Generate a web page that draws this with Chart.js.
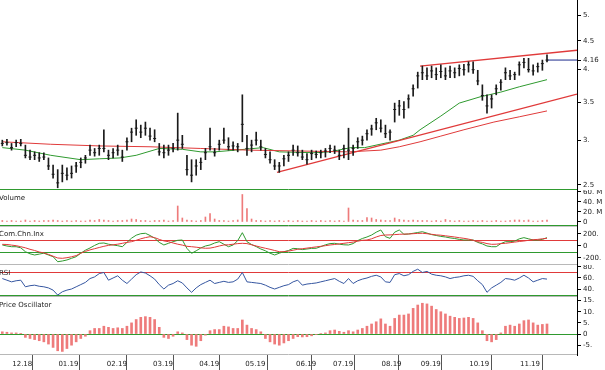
<!DOCTYPE html>
<html><head><meta charset="utf-8">
<script src="https://cdn.jsdelivr.net/npm/chart.js@4"></script>
<style>html,body{margin:0;padding:0;background:#fff;overflow:hidden}canvas{display:block}</style>
</head><body>
<canvas id="c" width="605" height="370"></canvas>
<script>
// ---- data; x = trading-day index ----
const high = [3.00,3.01,2.96,3.00,3.01,2.94,2.88,2.86,2.85,2.85, 2.79,2.71,2.66,2.71,2.68,2.70,2.74,2.79,2.82,2.94, 2.90,2.94,3.13,2.88,2.90,2.94,2.88,3.03,3.15,3.26, 3.19,3.23,3.15,3.13,2.96,2.94,2.94,2.96,3.35,3.06, 2.82,2.77,2.77,2.79,2.90,3.15,2.90,3.00,3.15,3.03, 2.98,2.96,3.61,3.06,3.00,3.10,3.00,2.90,2.86,2.77, 2.74,2.82,2.86,2.94,2.93,2.88,2.84,2.88,2.87,2.88, 2.90,2.94,2.93,2.88,2.94,3.15,2.94,3.03,3.05,3.13, 3.19,3.28,3.26,3.19,3.13,3.49,3.53,3.51,3.61,3.76, 3.96,4.06,4.03,4.06,4.03,4.08,4.03,4.06,4.03,4.08, 4.09,4.13,4.13,3.99,3.76,3.61,3.61,3.76,3.84,4.03, 3.99,3.96,4.13,4.19,4.19,4.08,4.11,4.16,4.25];
const low = [2.93,2.94,2.88,2.92,2.93,2.79,2.77,2.77,2.75,2.77, 2.66,2.57,2.47,2.53,2.55,2.57,2.63,2.68,2.73,2.82, 2.81,2.82,2.86,2.77,2.79,2.82,2.75,2.88,2.98,3.06, 3.03,3.06,3.00,2.98,2.82,2.79,2.82,2.86,2.88,2.90, 2.60,2.53,2.60,2.66,2.77,2.88,2.81,2.88,2.96,2.88, 2.88,2.86,2.98,2.82,2.86,2.94,2.88,2.79,2.73,2.66, 2.63,2.70,2.75,2.82,2.81,2.77,2.72,2.77,2.79,2.79, 2.80,2.85,2.84,2.77,2.79,2.77,2.82,2.90,2.94,3.00, 3.06,3.13,3.10,3.03,3.00,3.23,3.32,3.28,3.42,3.59, 3.71,3.84,3.84,3.87,3.84,3.87,3.84,3.87,3.87,3.90, 3.91,3.96,3.94,3.76,3.53,3.35,3.42,3.61,3.68,3.84, 3.84,3.84,3.91,4.03,3.96,3.91,3.96,3.99,4.13];
const close = [2.96,2.97,2.91,2.97,2.96,2.82,2.80,2.82,2.79,2.80, 2.70,2.61,2.52,2.62,2.60,2.62,2.70,2.74,2.79,2.88, 2.85,2.90,2.90,2.82,2.85,2.88,2.80,2.98,3.10,3.15, 3.10,3.15,3.05,3.02,2.86,2.85,2.88,2.90,3.00,2.95, 2.66,2.60,2.70,2.74,2.85,2.92,2.85,2.95,3.00,2.92, 2.93,2.92,3.20,2.90,2.94,3.00,2.92,2.83,2.77,2.70, 2.70,2.78,2.82,2.88,2.85,2.80,2.77,2.84,2.83,2.85, 2.87,2.90,2.88,2.82,2.90,2.88,2.90,2.98,3.00,3.08, 3.14,3.22,3.15,3.08,3.10,3.40,3.45,3.40,3.55,3.70, 3.90,3.95,3.90,3.98,3.92,3.97,3.90,3.98,3.95,4.02, 4.00,4.08,4.00,3.82,3.60,3.45,3.55,3.70,3.80,3.95, 3.90,3.92,4.08,4.12,4.00,3.98,4.05,4.10,4.16];
const volumeM = [3,2,3,2,2,4,2,3,2,3, 3,4,3,2,3,2,3,2,2,4, 3,5,4,3,2,3,3,4,6,5, 3,3,2,3,3,4,2,3,32,8, 4,3,2,3,10,17,6,3,3,2, 3,4,55,27,6,3,3,2,3,2, 3,2,3,2,3,2,2,3,2,3, 2,3,2,3,2,28,4,3,3,9, 8,5,4,3,3,8,5,4,3,4, 3,3,3,2,3,2,5,3,2,3, 2,2,3,2,3,2,2,3,2,2, 3,4,4,3,4,2,2,3,4];
const cci = [17,0,-12,-12,-30,-95,-130,-150,-135,-120, -150,-178,-262,-250,-233,-205,-178,-120,-70,-33, 10,45,50,30,17,5,-12,60,130,180, 205,212,175,130,60,17,45,72,95,100, -40,-122,-80,-33,0,17,50,72,30,-12, 17,90,222,72,25,-10,-50,-80,-120,-150, -120,-95,-75,-40,-45,-60,-50,-40,-38,-10, 20,40,45,30,20,17,40,90,125,150, 183,230,267,155,128,230,267,195,200,212, 225,238,215,190,175,160,150,135,125,110, 100,100,100,60,35,0,-12,-12,40,72, 72,80,120,139,120,100,100,110,139];
const cciAvg = [28,25,15,5,-12,-30,-55,-75,-100,-115, -140,-170,-200,-205,-195,-180,-160,-120,-90,-65, -45,-25,-5,10,20,30,45,60,72,95, 120,140,155,140,110,85,72,50,30,15, -5,-12,-20,-30,-38,-35,-20,0,17,20, 30,40,45,40,20,0,-20,-38,-55,-75, -95,-95,-85,-70,-55,-45,-35,-25,-15,-5, 5,17,25,35,45,55,65,80,95,100, 120,150,175,183,185,190,195,198,200,205, 210,212,205,195,185,180,170,160,150,138, 128,115,95,72,60,40,28,30,40,45, 55,65,75,83,95,105,110,120,128];
const rsi = [59,56,53,55,56,44,46,47,45,44, 42,38,29,35,38,40,44,48,52,59, 62,68,70,56,60,64,56,50,58,66, 71,69,64,58,48,40,47,50,55,51, 42,34,42,48,52,56,50,52,54,52, 53,58,70,53,52,51,50,47,43,40, 43,46,48,53,56,47,49,50,51,53, 55,57,59,54,50,59,50,55,58,60, 63,65,62,53,52,66,68,64,66,72, 76,70,72,67,65,64,62,59,61,62, 64,65,63,55,48,34,42,47,52,59, 58,56,60,65,60,53,56,59,58];
const priceOsc = [1,0.8,0.5,0.5,0.3,-1.5,-2,-2.5,-3,-3.5, -4.5,-6,-7.5,-7.8,-6.5,-5,-3.5,-2,-1,1.5, 2.5,2.5,3.5,3,2.5,2.8,2.5,3.5,5,6.5, 7.5,7.8,7.5,6.5,3,-1.5,-2,-1,1,0.5, -2.5,-5,-5.5,-3,-0.5,1.5,2,2,3.5,3.2, 2.5,2.5,6.3,4,2.5,2,1,-2,-3.5,-4.5, -5,-4,-3,-2,-1.2,-1.3,-1.2,-0.8,-0.3,0.2, 0.5,1.5,1.8,1.2,0.8,1.5,1,1.8,2.5,3.5, 4.5,5.5,6.8,4.5,3.5,7,8.5,8.5,9,11.5, 13,13.8,13.5,12.5,11,10,9,8,7.5,7, 7.2,7.5,7,5,1.5,-3,-3.5,-2.5,0.5,3.5, 4,3.5,4.5,6,6.3,5,4,4.3,4.5];
const maRedDays = [0,21,42,64,86,107,129,150,164,172,181,190,200,213,224,236];
const maRed = [2.98,2.95,2.93,2.92,2.90,2.88,2.87,2.86,2.88,2.92,2.98,3.05,3.13,3.23,3.30,3.38];
const maGreenDays = [0,10,21,34,42,51,58,68,78,86,92,101,113,120,135,142,151,157,167,172,178,181,190,198,207,216,224,236];
const maGreen = [2.91,2.88,2.82,2.77,2.78,2.79,2.82,2.90,2.89,2.86,2.86,2.88,2.91,2.86,2.85,2.86,2.91,2.91,2.97,3.00,3.06,3.13,3.31,3.49,3.58,3.65,3.73,3.84];
const supportDays = [119,249], supportPrices = [2.63,3.62];
const resistDays = [181,249], resistPrices = [4.06,4.33];
const lastDays = [236,249], lastPrice = 4.16;
const monthDays = [3,23,44,64,84,104,126,142,163,180,201,223];
const monthLabels = ['12.18','01.19','02.19','03.19','04.19','05.19','06.19','07.19','08.19','09.19','10.19','11.19'];
const priceTicks = [2.5,3,3.5,4,4.16,4.5,5];
const volTicks = [0,20,40,60];
const cciTicks = [-200,0,200];
const rsiTicks = [40,60,80];
const poTicks = [-5,0,5,10,15];
const cciLevels = [100,-100];
const rsiLevels = [70,30];
const panelTitles = {yV:'Volume', yC:'Com.Chn.Inx', yR:'RSI', yO:'Price Oscillator'};

const days = high.map((_, i) => i * 2);
const FONT = 'DejaVu Sans';
const RED = '#e03a3a', GREEN = '#2f9a2f', PINK = '#ee7b7b';

const numFmt = v => (v === 0 ? '0' : (Number.isInteger(v) ? v + '.' : String(v)));

function yAxis(stackWeight, ticks, fmt, extra) {
  return Object.assign({
    position: 'right', stack: 'panels', stackWeight, bounds: 'data',
    grid: {drawOnChartArea: false, drawTicks: true, tickLength: 4, color: '#000', tickColor: '#000'},
    border: {display: true, color: '#000'},
    ticks: {autoSkip: false, padding: 2, color: '#222', font: {family: FONT, size: 7}, callback: fmt},
    afterBuildTicks: s => { s.ticks = ticks.map(v => ({value: v})); },
    afterFit: s => { s.width = 28; s.paddingTop = 0; s.paddingBottom = 0; }
  }, extra);
}

const panelPlugin = {
  id: 'panels',
  afterLayout(chart) {
    ['yP','yV','yC','yR','yO'].forEach(id => {
      const s = chart.scales[id];
      if (!s || s._clipPatched) return;
      const orig = s.drawLabels;
      s.drawLabels = function(area) {
        const ctx = this.ctx; ctx.save(); ctx.beginPath();
        ctx.rect(this.left, this.top, this.width + 10, this.height); ctx.clip();
        orig.call(this, area); ctx.restore();
      };
      s._clipPatched = true;
    });
  },
  beforeDatasetsDraw(chart) {
    const ctx = chart.ctx, s = chart.scales, L = chart.chartArea.left, R = chart.chartArea.right;
    const hline = (y, color) => {
      const yy = Math.round(y) + 0.5;
      ctx.save(); ctx.strokeStyle = color; ctx.lineWidth = 1;
      ctx.beginPath(); ctx.moveTo(L, yy); ctx.lineTo(R, yy); ctx.stroke(); ctx.restore();
    };
    hline(s.yP.bottom - 1, GREEN);
    hline(s.yV.bottom - 1, GREEN);
    hline(s.yC.top, '#c8c8c8');
    hline(s.yC.getPixelForValue(cciLevels[0]), RED);
    hline(s.yC.getPixelForValue(cciLevels[1]), GREEN);
    hline(s.yC.bottom - 1, '#b8b8b8');
    hline(s.yR.getPixelForValue(rsiLevels[0]), RED);
    hline(s.yR.getPixelForValue(rsiLevels[1]), GREEN);
    hline(s.yR.bottom - 1, '#b8b8b8');
    hline(s.yO.getPixelForValue(0), GREEN);
    hline(s.yO.bottom - 1, '#b8b8b8');
  },
  afterDatasetsDraw(chart) {
    const ctx = chart.ctx;
    ctx.save(); ctx.fillStyle = '#222'; ctx.font = '7px "' + FONT + '"'; ctx.textBaseline = 'top'; ctx.textAlign = 'left';
    Object.keys(panelTitles).forEach(id => { ctx.fillText(panelTitles[id], -1, chart.scales[id].top + 5); });
    ctx.restore();
  }
};

const pts = (xs, ys) => xs.map((x, i) => ({x, y: ys[i]}));
const lineDs = (data, color, yAxisID, w) => ({type: 'line', data, borderColor: color, borderWidth: w || 1, pointRadius: 0, tension: 0, fill: false, yAxisID});

new Chart(document.getElementById('c'), {
  type: 'line',
  data: {
    datasets: [
      {type: 'bar', data: days.map((d, i) => ({x: d, y: [low[i], high[i]]})), backgroundColor: '#1a1a1a', barThickness: 1, grouped: false, yAxisID: 'yP'},
      {type: 'line', data: pts(days, close), showLine: false, pointStyle: 'line', pointRadius: 1.5, borderColor: '#1a1a1a', borderWidth: 1, yAxisID: 'yP'},
      lineDs(pts(lastDays, [lastPrice, lastPrice]), '#1c2a8c', 'yP'),
      lineDs(pts(resistDays, resistPrices), RED, 'yP', 1.3),
      lineDs(pts(supportDays, supportPrices), RED, 'yP', 1.3),
      lineDs(pts(maRedDays, maRed), RED, 'yP'),
      lineDs(pts(maGreenDays, maGreen), GREEN, 'yP'),
      {type: 'bar', data: pts(days, volumeM), backgroundColor: PINK, barThickness: 1, grouped: false, yAxisID: 'yV'},
      lineDs(pts(days, cciAvg), RED, 'yC'),
      lineDs(pts(days, cci), GREEN, 'yC'),
      lineDs(pts(days, rsi), '#3556a0', 'yR'),
      {type: 'bar', data: pts(days, priceOsc), backgroundColor: PINK, barThickness: 2, grouped: false, yAxisID: 'yO'}
    ]
  },
  options: {
    responsive: false, animation: false, devicePixelRatio: 1,
    layout: {padding: 0, autoPadding: false},
    plugins: {legend: {display: false}, tooltip: {enabled: false}},
    scales: {
      x: {
        type: 'linear', min: -1, max: 249, offset: false, bounds: 'data',
        grid: {drawOnChartArea: false, drawTicks: true, tickLength: 15, color: '#555', tickColor: '#555'},
        border: {display: false},
        ticks: {autoSkip: false, align: 'start', labelOffset: 3, padding: -10, maxRotation: 0, color: '#222', font: {family: FONT, size: 7},
          callback: v => { const i = monthDays.indexOf(v); return i >= 0 ? monthLabels[i] : ''; }},
        afterBuildTicks: s => { s.ticks = monthDays.map(v => ({value: v})); },
        afterFit: s => { s.height = 15; s.paddingLeft = 0; s.paddingRight = 0; }
      },
      yP: yAxis(190, priceTicks, v => numFmt(v), {type: 'logarithmic', min: 2.4477, max: 5.3157}),
      yV: yAxis(36, volTicks, v => (v === 0 ? '0' : v + '. M'), {type: 'linear', min: -8, max: 64}),
      yC: yAxis(39, cciTicks, numFmt, {type: 'linear', min: -316.7, max: 333.3}),
      yR: yAxis(32, rsiTicks, numFmt, {type: 'linear', min: 25.5, max: 83.6}),
      yO: yAxis(58, poTicks, numFmt, {type: 'linear', min: -9.4, max: 16.6})
    }
  },
  plugins: [panelPlugin]
});
</script>
</body></html>
